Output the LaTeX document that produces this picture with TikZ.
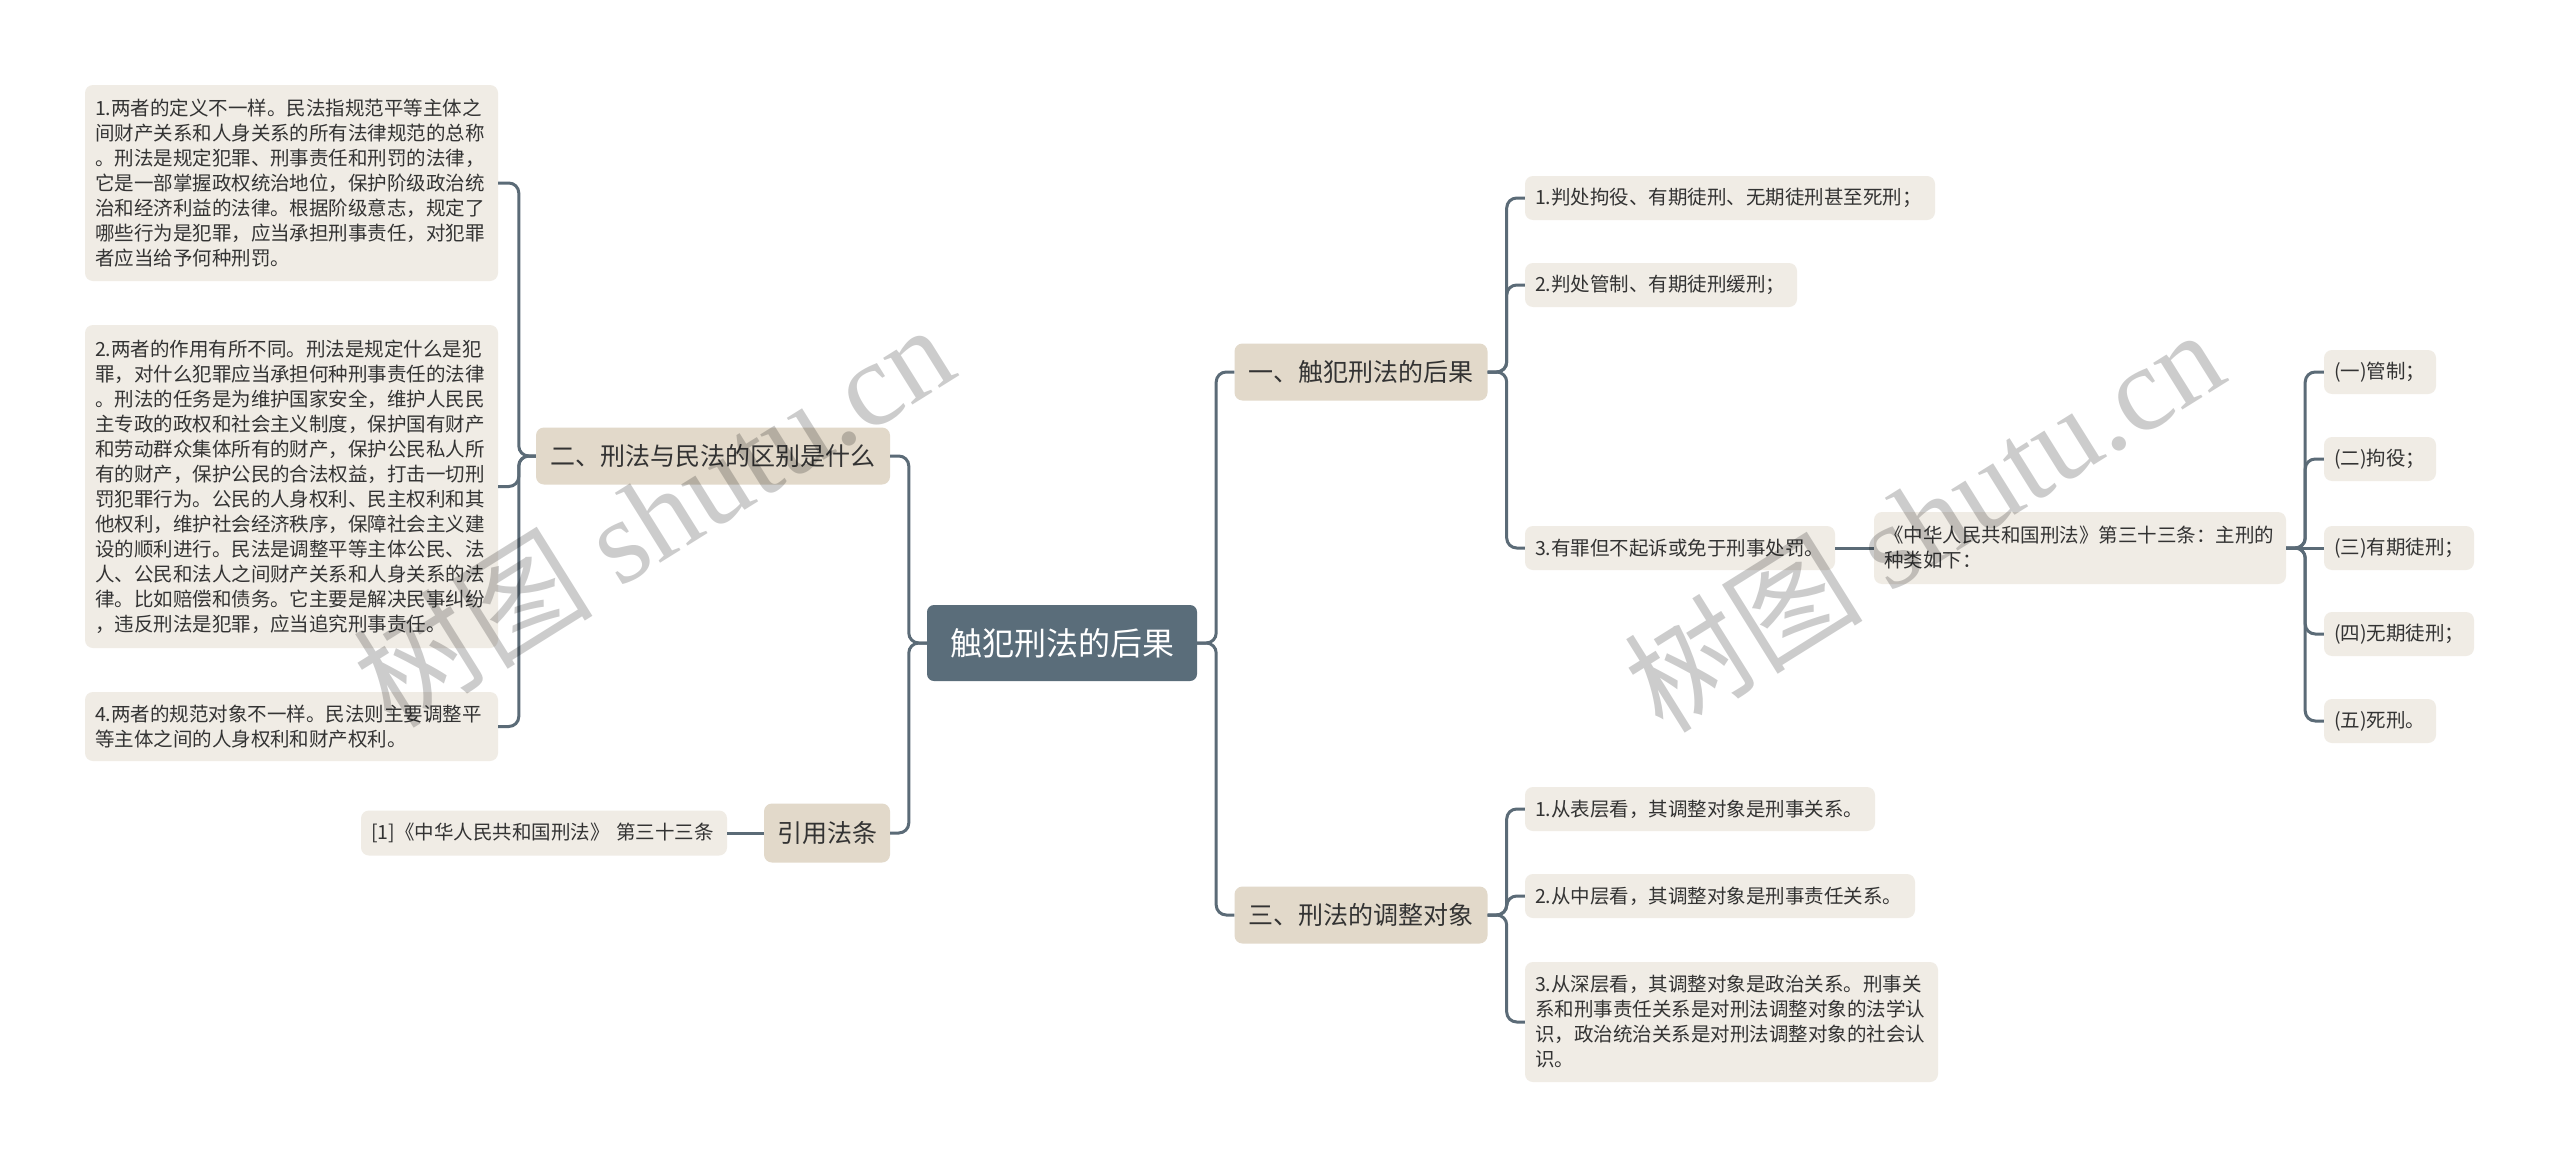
\documentclass[tikz,border=0pt]{standalone}
\usepackage{fontspec}
\setmainfont{Noto Sans CJK SC}
\newfontfamily\wmserif{Liberation Serif}
\definecolor{rootc}{HTML}{5A6D7A}
\definecolor{lvlc}{HTML}{E2D9CA}
\definecolor{leafc}{HTML}{F0ECE5}
\definecolor{linec}{HTML}{5B6B77}
\definecolor{txtc}{HTML}{333333}
\tikzset{
  conn/.style={draw=linec, line width=3pt, rounded corners=10pt},
  rootbox/.style={fill=rootc, rounded corners=7pt, text=white, font=\fontsize{32}{38}\selectfont, minimum width=270pt, minimum height=76pt, inner sep=0pt},
  lvl/.style={fill=lvlc, rounded corners=8pt, text=txtc, font=\fontsize{25}{30}\selectfont, minimum height=57pt, inner sep=0pt},
  leaf/.style={fill=leafc, rounded corners=8pt, text=txtc, font=\fontsize{19.5}{25}\selectfont, minimum height=44pt, inner xsep=10pt, inner ysep=0pt, align=left},
  wm/.style={text=black, opacity=0.2, rotate=32, font=\fontsize{120}{130}\selectfont, inner sep=0pt}
}
\begin{document}
\begin{tikzpicture}[x=1pt, y=-1pt]
\fill[white] (0,0) rectangle (2560,1167);
\useasboundingbox (0,0) rectangle (2560,1167);

% root
\node[rootbox] (root) at (1062,643) {触犯刑法的后果};

% level 1
\node[lvl, minimum width=354pt] (q2) at (713,456) {二、刑法与民法的区别是什么};
\node[lvl, minimum width=126pt, minimum height=59pt] (yl) at (827,833) {引用法条};
\node[lvl, minimum width=253pt] (a1) at (1361,372) {一、触犯刑法的后果};
\node[lvl, minimum width=253pt] (a3) at (1361,915) {三、刑法的调整对象};

% left leaves
\node[leaf, text width=393pt, minimum height=196pt] (l1) at (291.5,183) {1.两者的定义不一样。民法指规范平等主体之\\间财产关系和人身关系的所有法律规范的总称\\。刑法是规定犯罪、刑事责任和刑罚的法律，\\它是一部掌握政权统治地位，保护阶级政治统\\治和经济利益的法律。根据阶级意志，规定了\\哪些行为是犯罪，应当承担刑事责任，对犯罪\\者应当给予何种刑罚。};
\node[leaf, text width=393pt, minimum height=323pt] (l2) at (291.5,486.5) {2.两者的作用有所不同。刑法是规定什么是犯\\罪，对什么犯罪应当承担何种刑事责任的法律\\。刑法的任务是为维护国家安全，维护人民民\\主专政的政权和社会主义制度，保护国有财产\\和劳动群众集体所有的财产，保护公民私人所\\有的财产，保护公民的合法权益，打击一切刑\\罚犯罪行为。公民的人身权利、民主权利和其\\他权利，维护社会经济秩序，保障社会主义建\\设的顺利进行。民法是调整平等主体公民、法\\人、公民和法人之间财产关系和人身关系的法\\律。比如赔偿和债务。它主要是解决民事纠纷\\，违反刑法是犯罪，应当追究刑事责任。};
\node[leaf, text width=393pt, minimum height=69pt] (l4) at (291.5,726.5) {4.两者的规范对象不一样。民法则主要调整平\\等主体之间的人身权利和财产权利。};
\node[leaf, text width=346pt, minimum height=45pt] (ref) at (544,833) {[1]《中华人民共和国刑法》 第三十三条};

% right leaves of 一
\node[leaf, text width=390pt] (r1) at (1730,198) {1.判处拘役、有期徒刑、无期徒刑甚至死刑；};
\node[leaf, text width=252pt] (r2) at (1661,285) {2.判处管制、有期徒刑缓刑；};
\node[leaf, text width=290pt] (r3) at (1680,548) {3.有罪但不起诉或免于刑事处罚。};
\node[leaf, text width=392pt, minimum height=72pt] (law) at (2080,548) {《中华人民共和国刑法》第三十三条：主刑的\\种类如下：};
\node[leaf, text width=92pt] (p1) at (2380,372) {(一)管制；};
\node[leaf, text width=92pt] (p2) at (2380,459) {(二)拘役；};
\node[leaf, text width=130pt] (p3) at (2399,548) {(三)有期徒刑；};
\node[leaf, text width=130pt] (p4) at (2399,634) {(四)无期徒刑；};
\node[leaf, text width=92pt] (p5) at (2380,721) {(五)死刑。};

% right leaves of 三
\node[leaf, text width=330pt] (s1) at (1700,809) {1.从表层看，其调整对象是刑事关系。};
\node[leaf, text width=370pt] (s2) at (1720,896) {2.从中层看，其调整对象是刑事责任关系。};
\node[leaf, text width=393pt, minimum height=120pt] (s3) at (1731.5,1022) {3.从深层看，其调整对象是政治关系。刑事关\\系和刑事责任关系是对刑法调整对象的法学认\\识，政治统治关系是对刑法调整对象的社会认\\识。};

% connectors left
\draw[conn] (root.west) -- ([xshift=-18pt]root.west) |- (q2.east);
\draw[conn] (root.west) -- ([xshift=-18pt]root.west) |- (yl.east);
\draw[conn] (q2.west) -- ([xshift=-17pt]q2.west) |- (l1.east);
\draw[conn] (q2.west) -- ([xshift=-17pt]q2.west) |- (l2.east);
\draw[conn] (q2.west) -- ([xshift=-17pt]q2.west) |- (l4.east);
\draw[conn] (yl.west) -- (ref.east);

% connectors right
\draw[conn] (root.east) -- ([xshift=19pt]root.east) |- (a1.west);
\draw[conn] (root.east) -- ([xshift=19pt]root.east) |- (a3.west);
\draw[conn] (a1.east) -- ([xshift=19pt]a1.east) |- (r1.west);
\draw[conn] (a1.east) -- ([xshift=19pt]a1.east) |- (r2.west);
\draw[conn] (a1.east) -- ([xshift=19pt]a1.east) |- (r3.west);
\draw[conn] (r3.east) -- (law.west);
\draw[conn] (law.east) -- ([xshift=19pt]law.east) |- (p1.west);
\draw[conn] (law.east) -- ([xshift=19pt]law.east) |- (p2.west);
\draw[conn] (law.east) -- (p3.west);
\draw[conn] (law.east) -- ([xshift=19pt]law.east) |- (p4.west);
\draw[conn] (law.east) -- ([xshift=19pt]law.east) |- (p5.west);
\draw[conn] (a3.east) -- ([xshift=19pt]a3.east) |- (s1.west);
\draw[conn] (a3.east) -- ([xshift=19pt]a3.east) |- (s2.west);
\draw[conn] (a3.east) -- ([xshift=19pt]a3.east) |- (s3.west);

% watermarks
\node[wm] (wm1) at (653,514) {树图 {\wmserif shutu.cn}};
\node[wm] (wm2) at (1923,519) {树图 {\wmserif shutu.cn}};
\end{tikzpicture}
\end{document}
